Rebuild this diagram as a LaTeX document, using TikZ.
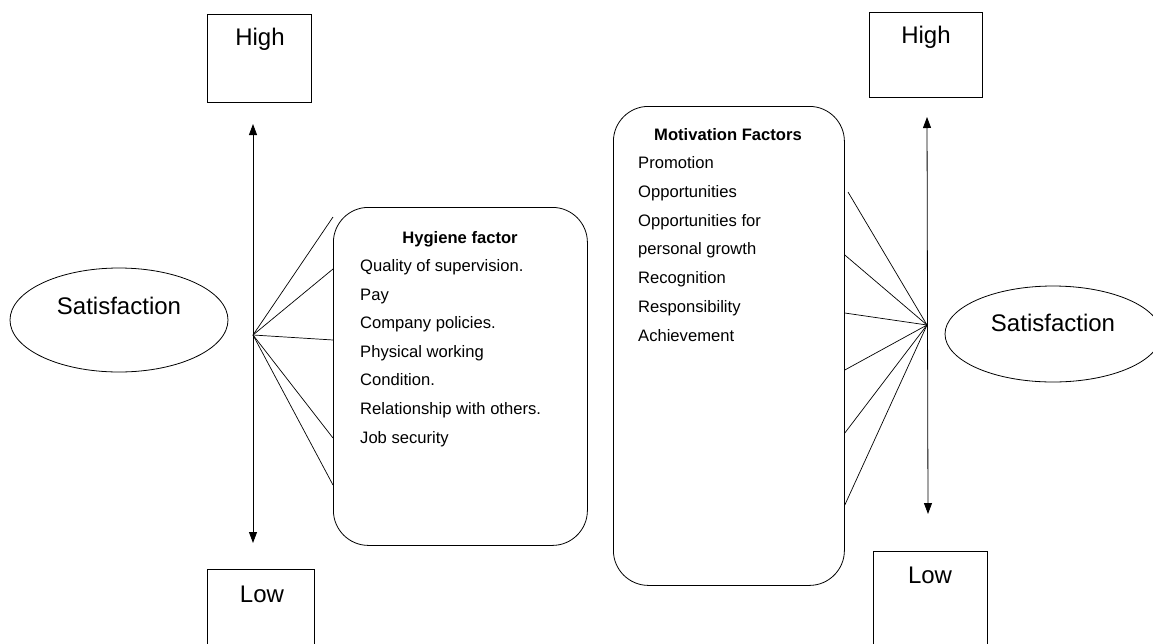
\documentclass[tikz,border=0pt]{standalone}
\usepackage{fontspec}
\setmainfont{Liberation Sans}
\usetikzlibrary{arrows.meta,shapes.geometric}
\begin{document}
\begin{tikzpicture}[x=1pt,y=-1pt,
  lbox/.style={draw, line width=0.8pt, inner sep=0pt, anchor=north west},
  rbox/.style={draw, line width=0.8pt, inner sep=0pt, anchor=north west, rounded corners=35pt},
  oval/.style={draw, ellipse, line width=0.8pt, inner sep=0pt},
  bigtxt/.style={font=\fontsize{24}{28}\selectfont, inner sep=0pt, anchor=base},
  smalltxt/.style={font=\fontsize{16.6}{20}\selectfont, inner sep=0pt, anchor=base west},
  titletxt/.style={font=\fontsize{16.6}{20}\selectfont\bfseries, inner sep=0pt, anchor=base},
  fanline/.style={line width=0.7pt},
  dblarrow/.style={line width=0.8pt, {Triangle[length=11pt,width=8pt]}-{Triangle[length=11pt,width=8pt]}}
]
\useasboundingbox (0,0) rectangle (1153,643);
\clip (0,0) rectangle (1153,643);

% boxes
\node[lbox, minimum width=104pt, minimum height=88pt] (highL) at (207,14) {};
\node[lbox, minimum width=107pt, minimum height=100pt] (lowL) at (207,569) {};
\node[lbox, minimum width=113pt, minimum height=85pt] (highR) at (869,12) {};
\node[lbox, minimum width=114pt, minimum height=100pt] (lowR) at (873,551) {};
\node[rbox, minimum width=254pt, minimum height=338pt] (hyg) at (333,207) {};
\node[rbox, minimum width=231pt, minimum height=479pt] (mot) at (613,106) {};
\node[oval, minimum width=218pt, minimum height=104pt] (satL) at (119,320) {};
\node[oval, minimum width=216pt, minimum height=96pt] (satR) at (1053,334) {};

% big labels
\node[bigtxt] (tHighL) at (260,45) {High};
\node[bigtxt] (tLowL) at (262,602) {Low};
\node[bigtxt] (tHighR) at (926,43) {High};
\node[bigtxt] (tLowR) at (930,583) {Low};
\node[bigtxt] (tSatL) at (119,314) {Satisfaction};
\node[bigtxt] (tSatR) at (1053,331) {Satisfaction};

% hygiene text
\node[titletxt] (hygT) at (460,243) {Hygiene factor};
\foreach \t/\y [count=\i] in {Quality of supervision./271, Pay/300, Company policies./328,
  Physical working/357, Condition./385, Relationship with others./414, Job security/443}
  \node[smalltxt] (hyg\i) at (360,\y) {\t};

% motivation text
\node[titletxt] (motT) at (728,140) {Motivation Factors};
\foreach \t/\y [count=\i] in {Promotion/168, Opportunities/197, Opportunities for/226,
  personal growth/254, Recognition/283, Responsibility/312, Achievement/341}
  \node[smalltxt] (mot\i) at (638,\y) {\t};

% arrows
\coordinate (aLtop) at (253,124);
\coordinate (aLbot) at (253,543);
\coordinate (aRtop) at (927,117);
\coordinate (aRbot) at (928,514);
\draw[dblarrow] (aLtop) -- (aLbot);
\draw[dblarrow] (aRtop) -- (aRbot);

% left fan
\coordinate (fanL) at (253,335);
\coordinate (l1) at (333,217);
\coordinate (l2) at (hyg.west |- 0,269);
\coordinate (l3) at (hyg.west |- 0,340);
\coordinate (l4) at (hyg.west |- 0,438);
\coordinate (l5) at (hyg.west |- 0,485);
\foreach \e in {l1,l2,l3,l4,l5} \draw[fanline] (fanL) -- (\e);

% right fan
\coordinate (fanR) at (927,325);
\coordinate (r1) at (848,192);
\coordinate (r2) at (mot.east |- 0,255);
\coordinate (r3) at (mot.east |- 0,313);
\coordinate (r4) at (mot.east |- 0,370);
\coordinate (r5) at (mot.east |- 0,433);
\coordinate (r6) at (mot.east |- 0,505);
\foreach \e in {r1,r2,r3,r4,r5,r6} \draw[fanline] (fanR) -- (\e);
\end{tikzpicture}
\end{document}
